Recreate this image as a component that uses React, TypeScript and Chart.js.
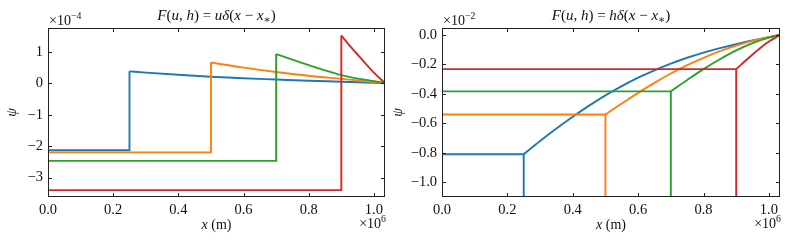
import React, { useEffect, useRef } from "react";
import { Chart, registerables } from "chart.js";
Chart.register(...registerables);

// ---------- data (x in units of 1e6 m) ----------
const COLORS = ["#1f77b4", "#ff7f0e", "#2ca02c", "#d62728"];
const sourcePos = [0.25, 0.5, 0.7, 0.9]; // x_*
const X_MAX = 1.034;
const xTicks = [0, 0.2, 0.4, 0.6, 0.8, 1.0];

// Left panel: psi in units of 1e-4
const leftBase = [-2.13, -2.2, -2.47, -3.4];
const leftPeak = [0.38, 0.66, 0.93, 1.52];
const leftDecayX = [
  [0.3, 0.4, 0.5, 0.6, 0.7, 0.8, 0.9, 1.0, 1.034],
  [0.6, 0.7, 0.8, 0.9, 1.0, 1.034],
  [0.75, 0.8, 0.85, 0.9, 0.95, 1.0, 1.034],
  [0.925, 0.95, 0.975, 1.0, 1.034],
];
const leftDecayY = [
  [0.34, 0.27, 0.21, 0.16, 0.12, 0.08, 0.05, 0.015, 0],
  [0.5, 0.36, 0.24, 0.14, 0.04, 0],
  [0.75, 0.58, 0.41, 0.26, 0.15, 0.07, 0],
  [1.21, 0.91, 0.62, 0.34, 0],
];
const leftYTicks = [-3, -2, -1, 0, 1];
const LEFT_Y_MIN = -3.62;
const LEFT_Y_MAX = 1.76;

// Right panel: psi in units of 1e-2
const rightBase = [-0.81, -0.54, -0.383, -0.232];
const DELTA_DEPTH = -1.6; // value of the numerical delta spike (off-axis)
const rightRiseX = [
  [0.3, 0.35, 0.4, 0.45, 0.5, 0.55, 0.6, 0.65, 0.7, 0.75, 0.8, 0.85, 0.9, 0.95, 1.0, 1.034],
  [0.55, 0.6, 0.65, 0.7, 0.75, 0.8, 0.85, 0.9, 0.95, 1.0, 1.034],
  [0.75, 0.8, 0.85, 0.9, 0.95, 1.0, 1.034],
  [0.93, 0.97, 1.0, 1.034],
];
const rightRiseY = [
  [-0.72, -0.635, -0.555, -0.48, -0.41, -0.347, -0.29, -0.24, -0.195, -0.155, -0.12, -0.09, -0.063, -0.038, -0.016, 0],
  [-0.465, -0.393, -0.325, -0.262, -0.205, -0.155, -0.11, -0.072, -0.04, -0.015, 0],
  [-0.306, -0.232, -0.165, -0.105, -0.055, -0.018, 0],
  [-0.172, -0.095, -0.045, 0],
];
const rightYTicks = [-1.0, -0.8, -0.6, -0.4, -0.2, 0.0];
const RIGHT_Y_MIN = -1.1;
const RIGHT_Y_MAX = 0.047;

// ---------- helpers ----------
const FONT = '"Liberation Serif", "DejaVu Serif", serif';
type Seg = [string, boolean, ("sup" | "sub")?];

function drawSegs(ctx: CanvasRenderingContext2D, segs: Seg[], x: number, y: number, align: "left" | "center" | "right", size: number) {
  const fontFor = (s: Seg) => `${s[1] ? "italic " : ""}${s[2] ? size * 0.7 : size}px ${FONT}`;
  let total = 0;
  const widths = segs.map((s) => {
    ctx.font = fontFor(s);
    const w = ctx.measureText(s[0]).width;
    total += w;
    return w;
  });
  let cx = align === "left" ? x : align === "center" ? x - total / 2 : x - total;
  ctx.textAlign = "left";
  ctx.textBaseline = "alphabetic";
  segs.forEach((s, i) => {
    ctx.font = fontFor(s);
    const dy = s[2] === "sup" ? -size * 0.42 : s[2] === "sub" ? size * 0.22 : 0;
    ctx.fillText(s[0], cx, y + dy);
    cx += widths[i];
  });
}

const minus = (s: string) => s.replace("-", "\u2212");

const lineStyle = (i: number) => ({
  borderColor: COLORS[i],
  borderWidth: 1.9,
  pointRadius: 0,
  fill: false,
  order: 3 - i,
});

function buildLeft() {
  const out: any[] = [];
  sourcePos.forEach((xs, i) => {
    out.push({
      ...lineStyle(i),
      tension: 0,
      data: [
        { x: 0, y: leftBase[i] },
        { x: xs, y: leftBase[i] },
        { x: xs, y: leftPeak[i] },
      ],
    });
    out.push({
      ...lineStyle(i),
      cubicInterpolationMode: "monotone",
      data: [{ x: xs, y: leftPeak[i] }, ...leftDecayX[i].map((x, j) => ({ x, y: leftDecayY[i][j] }))],
    });
  });
  return out;
}

function buildRight() {
  const out: any[] = [];
  sourcePos.forEach((xs, i) => {
    out.push({
      ...lineStyle(i),
      tension: 0,
      data: [
        { x: 0, y: rightBase[i] },
        { x: xs, y: rightBase[i] },
        { x: xs, y: DELTA_DEPTH },
      ],
    });
    out.push({
      ...lineStyle(i),
      cubicInterpolationMode: "monotone",
      data: [{ x: xs, y: rightBase[i] }, ...rightRiseX[i].map((x, j) => ({ x, y: rightRiseY[i][j] }))],
    });
  });
  return out;
}

interface PanelCfg {
  title: Seg[];
  yExp: string;
  yTicks: number[];
  yMin: number;
  yMax: number;
  yFmt: (v: number) => string;
  datasets: any[];
  yAxisWidth: number;
  padRight: number;
  yLabelX: number;
}

function makeChart(canvas: HTMLCanvasElement, cfg: PanelCfg) {
  const deco = {
    id: "deco",
    afterDraw(chart: any) {
      const { ctx, chartArea: a, scales } = chart;
      ctx.save();
      ctx.fillStyle = "#111";
      ctx.strokeStyle = "#222";
      ctx.lineWidth = 1;
      const L = Math.round(a.left) + 0.5, R = Math.round(a.right) - 0.5;
      const T = Math.round(a.top) + 0.5, B = Math.round(a.bottom) - 0.5;
      ctx.strokeRect(L, T, R - L, B - T);
      const tl = 3.5;
      ctx.beginPath();
      scales.x.ticks.forEach((t: any) => {
        const p = Math.round(scales.x.getPixelForValue(t.value)) + 0.5;
        ctx.moveTo(p, B); ctx.lineTo(p, B - tl);
        ctx.moveTo(p, T); ctx.lineTo(p, T + tl);
      });
      scales.y.ticks.forEach((t: any) => {
        const p = Math.round(scales.y.getPixelForValue(t.value)) + 0.5;
        ctx.moveTo(L, p); ctx.lineTo(L + tl, p);
        ctx.moveTo(R, p); ctx.lineTo(R - tl, p);
      });
      ctx.stroke();
      const cx = (a.left + a.right) / 2;
      drawSegs(ctx, cfg.title, cx, 20, "center", 15);
      drawSegs(ctx, [["\u00d710", false], [cfg.yExp, false, "sup"]], a.left + 1, 24.5, "left", 14);
      drawSegs(ctx, [["\u00d710", false], ["6", false, "sup"]], a.right + 1, 228, "right", 14);
      drawSegs(ctx, [["x", true], [" (m)", false]], cx, 229, "center", 14);
      ctx.save();
      ctx.translate(cfg.yLabelX, (a.top + a.bottom) / 2);
      ctx.rotate(-Math.PI / 2);
      drawSegs(ctx, [["\u03c8", true]], 0, 4, "center", 14);
      ctx.restore();
      ctx.restore();
    },
  };
  return new Chart(canvas, {
    type: "line",
    data: { datasets: cfg.datasets },
    options: {
      animation: false,
      responsive: false,
      devicePixelRatio: 1,
      layout: { padding: { left: 0, top: 28, right: cfg.padRight, bottom: 0 } },
      plugins: { legend: { display: false }, tooltip: { enabled: false }, title: { display: false } },
      scales: {
        x: {
          type: "linear",
          min: 0,
          max: X_MAX,
          grid: { display: false, drawTicks: false },
          border: { display: false },
          afterBuildTicks: (s: any) => { s.ticks = xTicks.map((v) => ({ value: v })); },
          afterFit: (s: any) => { s.height = 45; },
          ticks: {
            padding: 4,
            color: "#111",
            font: { family: FONT, size: 14.5 },
            callback: (v: any) => Number(v).toFixed(1),
            maxRotation: 0,
          },
        },
        y: {
          type: "linear",
          min: cfg.yMin,
          max: cfg.yMax,
          grid: { display: false, drawTicks: false },
          border: { display: false },
          afterBuildTicks: (s: any) => { s.ticks = cfg.yTicks.map((v) => ({ value: v })); },
          afterFit: (s: any) => { s.width = cfg.yAxisWidth; },
          ticks: {
            padding: 5,
            color: "#111",
            font: { family: FONT, size: 14.5 },
            callback: (v: any) => cfg.yFmt(Number(v)),
          },
        },
      },
    },
    plugins: [deco],
  } as any);
}

export default function App() {
  const leftRef = useRef<HTMLCanvasElement>(null);
  const rightRef = useRef<HTMLCanvasElement>(null);
  useEffect(() => {
    const c1 = makeChart(leftRef.current!, {
      title: [["F", true], ["(", false], ["u", true], [",", false], [" h", true], [") = ", false], ["u\u03b4", true], ["(", false], ["x", true], [" \u2212 ", false], ["x", true], ["\u2217", false, "sub"], [")", false]],
      yExp: "\u22124",
      yTicks: leftYTicks,
      yMin: LEFT_Y_MIN,
      yMax: LEFT_Y_MAX,
      yFmt: (v) => minus(v.toFixed(0)),
      datasets: buildLeft(),
      yAxisWidth: 48,
      padRight: 5,
      yLabelX: 12,
    });
    const c2 = makeChart(rightRef.current!, {
      title: [["F", true], ["(", false], ["u", true], [",", false], [" h", true], [") = ", false], ["h\u03b4", true], ["(", false], ["x", true], [" \u2212 ", false], ["x", true], ["\u2217", false, "sub"], [")", false]],
      yExp: "\u22122",
      yTicks: rightYTicks,
      yMin: RIGHT_Y_MIN,
      yMax: RIGHT_Y_MAX,
      yFmt: (v) => minus(v.toFixed(1)),
      datasets: buildRight(),
      yAxisWidth: 52,
      padRight: 9,
      yLabelX: 8,
    });
    return () => { c1.destroy(); c2.destroy(); };
  }, []);
  return (
    <div style={{ position: "absolute", left: 0, top: 0, width: 789, height: 242, background: "#fff" }}>
      <canvas ref={leftRef} width={390} height={242} style={{ position: "absolute", left: 0, top: 0, width: 390, height: 242 }} />
      <canvas ref={rightRef} width={399} height={242} style={{ position: "absolute", left: 390, top: 0, width: 399, height: 242 }} />
    </div>
  );
}
